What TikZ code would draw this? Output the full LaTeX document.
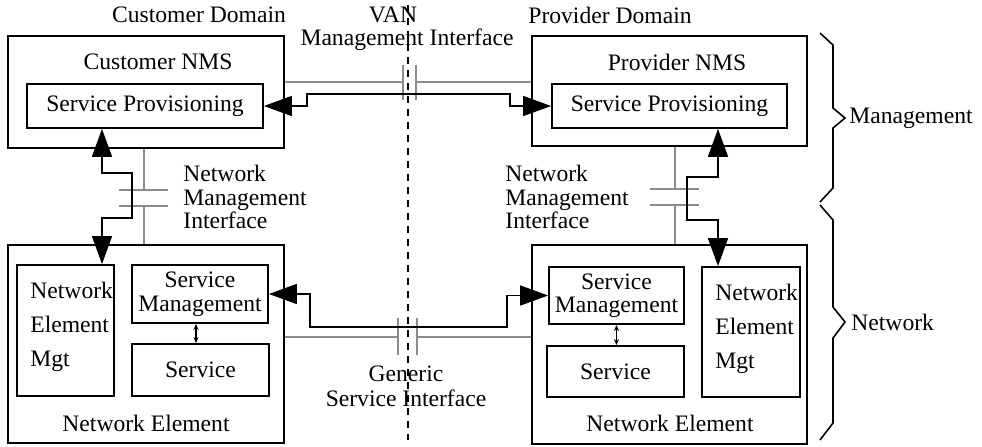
\documentclass[tikz,border=0pt]{standalone}
\usepackage{fontspec}
\setmainfont{Liberation Serif}
\usetikzlibrary{fit,arrows.meta}
\begin{document}
\begin{tikzpicture}[x=0.5pt,y=-0.5pt,
  font=\fontsize{11.8}{11.75}\selectfont,
  box/.style={draw, line width=0.9pt, inner sep=0pt},
  txt/.style={inner sep=0pt, align=center},
  gline/.style={draw=black!45, line width=1.4pt},
  dconn/.style={line width=0.8pt, {Triangle[length=14pt,width=10pt]}-{Triangle[length=14pt,width=10pt]}},
  sconn/.style={line width=0.6pt, {Stealth[length=3pt,width=2.5pt]}-{Stealth[length=3pt,width=2.5pt]}},
  brace/.style={line width=0.8pt, line join=miter}]
\useasboundingbox (0,0) rectangle (982,446);

% domain divider
\coordinate (dtop) at (408,5);
\coordinate (dbot) at (408,440);
\draw[line width=0.6pt, dash pattern=on 3.5pt off 3pt] (dtop) -- (dbot);

% boxes
\node[box, fit={(8,36) (284,148)}] (cnms) {};
\node[box, fit={(27,84) (263,128)}] (csp) {};
\node[box, fit={(532,36) (807,146)}] (pnms) {};
\node[box, fit={(552,84) (787,128)}] (psp) {};
\node[box, fit={(8,245) (284,443)}] (cne) {};
\node[box, fit={(17,265) (114,396)}] (cnem) {};
\node[box, fit={(132,265) (268,323)}] (csm) {};
\node[box, fit={(132,344) (269,396)}] (csv) {};
\node[box, fit={(532,245) (807,444)}] (pne) {};
\node[box, fit={(549,267) (684,324)}] (psm) {};
\node[box, fit={(547,346) (684,397)}] (psv) {};
\node[box, fit={(702,267) (800,397)}] (pnem) {};

% texts
\node[txt] (tcd) at (199,15) {Customer Domain};
\node[txt] (tvan) at (393,15) {VAN};
\node[txt] (tmi) at (407,40) {Management Interface};
\node[txt] (tpd) at (610,15) {Provider Domain};
\node[txt] (tcnms) at (158,62) {Customer NMS};
\node[txt] (tcsp) at (csp.center) {Service Provisioning};
\node[txt] (tpnms) at (677,62) {Provider NMS};
\node[txt] (tpsp) at (psp.center) {Service Provisioning};
\node[txt, anchor=west, align=left] (tlnmi) at (183,197) {Network\\Management\\Interface};
\node[txt, anchor=west, align=left] (trnmi) at (505,197) {Network\\Management\\Interface};
\node[txt, anchor=west, align=left, font=\fontsize{11.8}{17}\selectfont] (tcnem) at (30,327) {Network\\Element\\Mgt};
\node[txt, anchor=west, align=left, font=\fontsize{11.8}{17}\selectfont] (tpnem) at (715,329) {Network\\Element\\Mgt};
\node[txt] (tcsm) at (csm.center) {Service\\Management};
\node[txt] (tpsm) at (psm.center) {Service\\Management};
\node[txt] (tcsv) at (csv.center) {Service};
\node[txt] (tpsv) at (psv.center) {Service};
\node[txt] (tcne) at (146,423) {Network Element};
\node[txt] (tpne) at (670,423) {Network Element};
\node[txt, font=\fontsize{11.8}{12.5}\selectfont] (tgsi) at (406,386) {Generic\\Service Interface};

% gray interface lines: VAN management interface
\coordinate (tv1) at (403,82);
\coordinate (tv2) at (416,82);
\draw[gline] (tv1 -| cnms.east) -- (tv1);
\draw[gline] (tv2) -- (tv2 -| pnms.west);
\draw[gline] (tv1) ++(0,-17) -- ++(0,35);
\draw[gline] (tv2) ++(0,-17) -- ++(0,35);

% left network management interface
\coordinate (ln1) at (144,190);
\coordinate (ln2) at (144,206);
\draw[gline] (cnms.south -| ln1) -- (ln1);
\draw[gline] (ln2) -- (ln2 |- cne.north);
\draw[gline] (ln1) ++(-25,0) -- ++(49,0);
\draw[gline] (ln2) ++(-25,0) -- ++(49,0);

% right network management interface
\coordinate (rn1) at (675,189);
\coordinate (rn2) at (675,205);
\draw[gline] (pnms.south -| rn1) -- (rn1);
\draw[gline] (rn2) -- (rn2 |- pne.north);
\draw[gline] (rn1) ++(-25,0) -- ++(49,0);
\draw[gline] (rn2) ++(-25,0) -- ++(49,0);

% generic service interface
\coordinate (gs1) at (398,337);
\coordinate (gs2) at (417,337);
\draw[gline] (gs1 -| cne.east) -- (gs1);
\draw[gline] (gs2) -- (gs2 -| pne.west);
\draw[gline] (gs1) ++(0,-19) -- ++(0,37);
\draw[gline] (gs2) ++(0,-19) -- ++(0,37);

% black connectors
\coordinate (tk1) at (307,94);
\coordinate (tk2) at (510,94);
\draw[dconn] (csp.east) -- (csp.east -| tk1) -- (tk1) -- (tk2) |- (psp.west);

\coordinate (lk1) at (102,173);
\coordinate (lk2) at (132,218);
\draw[dconn] (csp.south -| lk1) -- (lk1) -| (lk2) -| (cnem.north -| lk1);

\coordinate (rk1) at (718,177);
\coordinate (rk2) at (687,220);
\draw[dconn] (psp.south -| rk1) -- (rk1) -| (rk2) -| (pnem.north -| rk1);

\coordinate (bk1) at (310,327);
\coordinate (bk2) at (507,327);
\draw[dconn] (csm.east) -- (csm.east -| bk1) -- (bk1) -- (bk2) |- (psm.west);

\draw[sconn] ([xshift=-2pt]csm.south) -- ([xshift=-2pt]csm.south |- csv.north);
\draw[sconn] (psm.south) -- (psm.south |- psv.north);

% braces
\coordinate (bt1) at (845,118);
\coordinate (bt2) at (845,322);
\draw[brace] (820,33) -- (833,45) -- (833,108) -- (bt1) -- (833,128) -- (833,188) -- (820,202);
\draw[brace] (820,205) -- (833,220) -- (833,307) -- (bt2) -- (833,338) -- (833,423) -- (820,440);
\node[txt, anchor=west] (tmg) at ([xshift=2pt]bt1) {Management};
\node[txt, anchor=west] (tnw) at ([xshift=3pt]bt2) {Network};
\end{tikzpicture}
\end{document}
